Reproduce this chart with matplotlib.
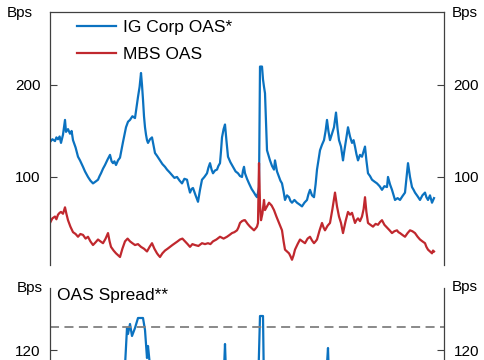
import matplotlib
matplotlib.use("Agg")
import matplotlib.pyplot as plt

plt.rcParams['font.family'] = ['Liberation Sans', 'DejaVu Sans']

# IG Corp OAS* (bps), dates as fractional years
ig_dates = [1998.30, 1998.42, 1998.55, 1998.62, 1998.70, 1998.78, 1998.85, 1998.95, 1999.05, 1999.10,
            1999.20, 1999.30, 1999.38, 1999.45, 1999.58, 1999.70, 1999.80, 1999.95, 2000.05, 2000.20,
            2000.32, 2000.45, 2000.58, 2000.70, 2000.78, 2000.85, 2000.95, 2001.05, 2001.18, 2001.30,
            2001.38, 2001.45, 2001.52, 2001.60, 2001.70, 2001.80, 2001.95, 2002.10, 2002.20, 2002.30,
            2002.42, 2002.55, 2002.62, 2002.70, 2002.78, 2002.85, 2002.90, 2002.95, 2003.00, 2003.05,
            2003.10, 2003.15, 2003.20, 2003.30, 2003.40, 2003.48, 2003.55, 2003.65, 2003.80, 2003.92,
            2004.05, 2004.15, 2004.28, 2004.40, 2004.52, 2004.65, 2004.78, 2004.90, 2005.02, 2005.15,
            2005.22, 2005.30, 2005.38, 2005.45, 2005.58, 2005.70, 2005.80, 2005.90, 2006.02, 2006.15,
            2006.22, 2006.30, 2006.38, 2006.45, 2006.55, 2006.65, 2006.72, 2006.80, 2006.85, 2006.90,
            2006.98, 2007.05, 2007.12, 2007.20, 2007.32, 2007.45, 2007.58, 2007.70, 2007.80, 2007.90,
            2007.95, 2008.00, 2008.05, 2008.15, 2008.25, 2008.38, 2008.50, 2008.58, 2008.65, 2008.72,
            2008.75, 2008.80, 2008.90, 2008.95, 2009.00, 2009.05, 2009.10, 2009.15, 2009.22, 2009.30,
            2009.40, 2009.50, 2009.55, 2009.65, 2009.75, 2009.82, 2009.90, 2009.98, 2010.05, 2010.15,
            2010.25, 2010.32, 2010.40, 2010.52, 2010.65, 2010.78, 2010.90, 2011.02, 2011.15, 2011.22,
            2011.30, 2011.40, 2011.50, 2011.58, 2011.65, 2011.72, 2011.80, 2011.90, 2012.00, 2012.08,
            2012.15, 2012.22, 2012.30, 2012.40, 2012.50, 2012.55, 2012.60, 2012.68, 2012.75, 2012.85,
            2012.95, 2013.00, 2013.05, 2013.12, 2013.20, 2013.30, 2013.40, 2013.48, 2013.55, 2013.62,
            2013.70, 2013.80, 2013.90, 2013.98, 2014.05, 2014.12, 2014.20, 2014.30, 2014.40, 2014.52,
            2014.65, 2014.78, 2014.90, 2015.02, 2015.15, 2015.20, 2015.30, 2015.40, 2015.48, 2015.55,
            2015.68, 2015.80, 2015.92, 2016.05, 2016.12, 2016.20, 2016.30, 2016.40, 2016.48, 2016.55,
            2016.68, 2016.80, 2016.92, 2017.05, 2017.12, 2017.20, 2017.30, 2017.40, 2017.50]
ig_oas = [138, 141, 139, 143, 141, 144, 137, 146, 162, 149,
          152, 147, 150, 140, 132, 122, 118, 111, 106, 100,
          96, 93, 95, 97, 101, 104, 109, 113, 119, 124,
          117, 115, 117, 113, 118, 121, 138, 154, 160, 162,
          166, 164, 175, 187, 198, 213, 200, 184, 166, 154,
          146, 140, 137, 141, 143, 134, 126, 123, 118, 114,
          111, 108, 105, 102, 99, 100, 96, 93, 98, 97,
          90, 83, 87, 88, 80, 73, 86, 97, 100, 104,
          110, 115, 108, 104, 107, 108, 112, 115, 128, 143,
          152, 157, 140, 122, 116, 111, 106, 104, 101, 100,
          107, 111, 104, 98, 93, 87, 83, 80, 78, 85,
          89, 220, 220, 206, 198, 191, 160, 129, 124, 118,
          112, 108, 118, 106, 100, 96, 93, 84, 75, 80,
          78, 74, 72, 75, 72, 70, 68, 72, 75, 81,
          86, 80, 78, 92, 108, 118, 129, 135, 140, 150,
          162, 150, 140, 147, 154, 162, 170, 152, 140, 133,
          118, 126, 133, 143, 154, 144, 137, 140, 133, 125,
          118, 124, 122, 128, 133, 118, 104, 101, 97, 95,
          93, 90, 86, 90, 89, 100, 92, 86, 80, 75,
          77, 75, 79, 83, 98, 115, 100, 89, 86, 83,
          79, 75, 80, 83, 78, 75, 80, 72, 77]

# MBS OAS (bps)
mbs_dates = [1998.30, 1998.42, 1998.55, 1998.62, 1998.70, 1998.78, 1998.85, 1998.95, 1999.05, 1999.12,
             1999.20, 1999.32, 1999.45, 1999.58, 1999.70, 1999.82, 1999.95, 2000.08, 2000.20, 2000.32,
             2000.45, 2000.58, 2000.70, 2000.82, 2000.95, 2001.08, 2001.20, 2001.28, 2001.35, 2001.48,
             2001.60, 2001.70, 2001.80, 2001.92, 2002.05, 2002.18, 2002.30, 2002.42, 2002.55, 2002.70,
             2002.85, 2003.00, 2003.15, 2003.28, 2003.40, 2003.52, 2003.65, 2003.72, 2003.80, 2003.92,
             2004.05, 2004.18, 2004.30, 2004.42, 2004.55, 2004.68, 2004.80, 2004.92, 2005.05, 2005.18,
             2005.30, 2005.42, 2005.55, 2005.72, 2005.90, 2006.05, 2006.20, 2006.32, 2006.45, 2006.62,
             2006.80, 2006.98, 2007.15, 2007.28, 2007.40, 2007.52, 2007.65, 2007.72, 2007.80, 2007.90,
             2008.00, 2008.05, 2008.18, 2008.30, 2008.40, 2008.50, 2008.58, 2008.65, 2008.70, 2008.75,
             2008.80, 2008.85, 2008.92, 2009.00, 2009.05, 2009.15, 2009.25, 2009.38, 2009.50, 2009.62,
             2009.75, 2009.82, 2009.90, 2009.98, 2010.05, 2010.15, 2010.25, 2010.32, 2010.40, 2010.48,
             2010.55, 2010.68, 2010.80, 2010.92, 2011.05, 2011.18, 2011.30, 2011.40, 2011.50, 2011.58,
             2011.65, 2011.78, 2011.90, 2011.98, 2012.05, 2012.18, 2012.30, 2012.42, 2012.55, 2012.65,
             2012.75, 2012.85, 2012.95, 2013.08, 2013.20, 2013.30, 2013.40, 2013.48, 2013.55, 2013.62,
             2013.70, 2013.80, 2013.90, 2013.98, 2014.05, 2014.12, 2014.20, 2014.32, 2014.45, 2014.58,
             2014.70, 2014.80, 2014.90, 2015.02, 2015.15, 2015.28, 2015.40, 2015.52, 2015.65, 2015.72,
             2015.80, 2015.92, 2016.05, 2016.18, 2016.30, 2016.42, 2016.55, 2016.68, 2016.80, 2016.92,
             2017.05, 2017.12, 2017.20, 2017.30, 2017.40, 2017.45, 2017.50]
mbs_oas = [50, 55, 57, 54, 59, 61, 62, 60, 67, 60,
           53, 46, 40, 38, 35, 38, 37, 33, 35, 30,
           26, 29, 32, 30, 28, 33, 39, 30, 24, 20,
           17, 15, 13, 22, 30, 33, 30, 28, 26, 27,
           24, 22, 19, 24, 28, 22, 17, 15, 13, 17,
           20, 22, 24, 26, 28, 30, 32, 33, 30, 27,
           24, 27, 26, 25, 28, 27, 28, 27, 30, 32,
           35, 33, 35, 37, 39, 40, 42, 45, 50, 52,
           53, 53, 49, 46, 44, 42, 44, 46, 50, 115,
           70, 53, 60, 75, 64, 68, 72, 69, 64, 57,
           50, 46, 42, 30, 21, 19, 17, 14, 10, 15,
           21, 27, 32, 30, 28, 33, 35, 31, 28, 30,
           32, 42, 50, 45, 42, 47, 50, 65, 83, 68,
           57, 50, 39, 52, 62, 59, 61, 55, 50, 53,
           55, 52, 57, 65, 78, 62, 50, 48, 46, 49,
           48, 51, 53, 48, 45, 42, 39, 41, 42, 40,
           39, 37, 35, 39, 42, 41, 39, 35, 32, 30,
           28, 24, 21, 19, 17, 20, 19]

# OAS Spread** (bps)
spread_dates = [1998.30, 2000.80, 2001.90, 2002.05, 2002.15, 2002.20, 2002.30, 2002.40, 2002.55, 2002.70,
                2002.85, 2002.95, 2003.05, 2003.15, 2003.20, 2003.30, 2003.40, 2004.80, 2006.80, 2007.00,
                2007.05, 2007.10, 2007.80, 2008.70, 2008.80, 2008.95, 2009.00, 2010.80, 2012.10, 2012.20,
                2012.25, 2013.80, 2015.80, 2017.50]
spread = [100, 95, 105, 112, 131, 128, 133, 127, 131, 136,
          136, 136, 130, 116, 122, 112, 100, 95, 100, 110,
          123, 108, 100, 100, 137, 137, 100, 95, 105, 121,
          105, 100, 95, 95]
spread_avg = 131.5

top_ticks = [100, 200]
bottom_ticks = [120]

blue = '#0B72C0'
red = '#C0282E'
spine_col = '#404040'

fig = plt.figure(figsize=(4.85, 3.6), dpi=100)

ax = fig.add_axes([50 / 485, 1 - 265 / 360, 394 / 485, 253 / 360])
ax.plot(ig_dates, ig_oas, color=blue, lw=1.6, label='IG Corp OAS*')
ax.plot(mbs_dates, mbs_oas, color=red, lw=1.6, label='MBS OAS')
ax.set_xlim(1998.3, 2018.0)
ax.set_ylim(4.3, 279.3)
ax.set_yticks(top_ticks)
ax.tick_params(axis='y', which='both', direction='in', length=5, width=0.8,
               color=spine_col, labelsize=11, left=True, right=True,
               labelleft=True, labelright=True, pad=7)
ax.set_xticks([])
ax.spines['bottom'].set_visible(False)
for s in ['left', 'right', 'top']:
    ax.spines[s].set_color(spine_col)
    ax.spines[s].set_linewidth(0.9)
ax.legend(loc='upper left', frameon=False, fontsize=12.5, handlelength=2.2,
          handletextpad=0.45, labelspacing=0.7, bbox_to_anchor=(0.03, 1.03))

ax2 = fig.add_axes([50 / 485, -0.2, 394 / 485, 0.4])
ax2.plot(spread_dates, spread, color=blue, lw=1.6)
ax2.axhline(spread_avg, color='#808080', lw=1.3, ls=(0, (5, 3)))
ax2.set_xlim(1998.3, 2018.0)
ax2.set_ylim(79, 151)
ax2.set_yticks(bottom_ticks)
ax2.tick_params(axis='y', which='both', direction='in', length=5, width=0.8,
                color=spine_col, labelsize=11, left=True, right=True,
                labelleft=True, labelright=True, pad=7)
ax2.set_xticks([])
ax2.spines['top'].set_visible(False)
ax2.spines['bottom'].set_visible(False)
for s in ['left', 'right']:
    ax2.spines[s].set_color(spine_col)
    ax2.spines[s].set_linewidth(0.9)

fig.text(0.04, 0.964, 'Bps', fontsize=11, ha='center', va='center')
fig.text(0.958, 0.964, 'Bps', fontsize=11, ha='center', va='center')
fig.text(0.062, 0.2, 'Bps', fontsize=11, ha='center', va='center')
fig.text(0.958, 0.203, 'Bps', fontsize=11, ha='center', va='center')
fig.text(0.1175, 0.178, 'OAS Spread**', fontsize=12.5, ha='left', va='center')

fig.savefig('out.png', dpi=100)
